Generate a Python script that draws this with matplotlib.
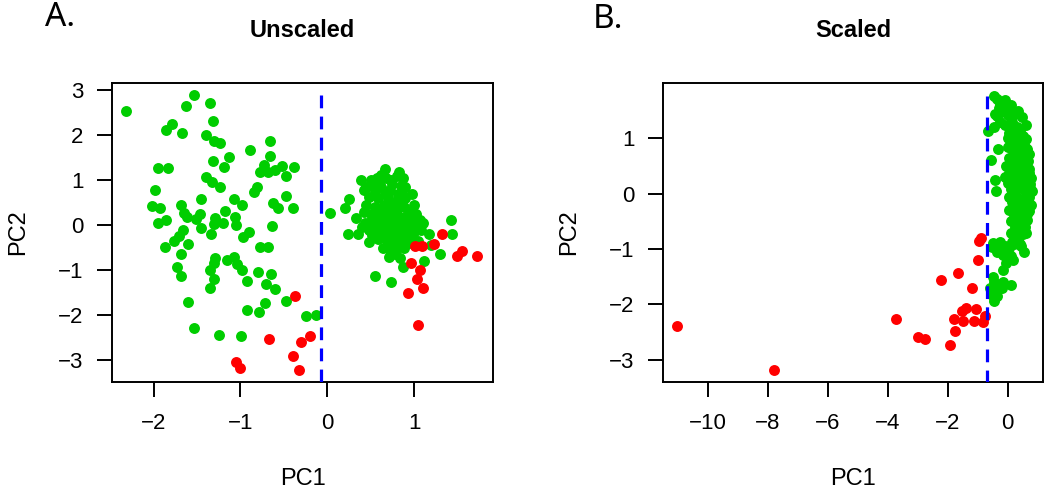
import matplotlib
matplotlib.use("Agg")
import matplotlib.pyplot as plt

plt.rcParams['font.family'] = ['Liberation Sans', 'DejaVu Sans']

GREEN = '#00CD00'
RED = '#FF0000'

# ---- Unscaled PCA: left (spread) group, green
unsc_left_x = [-2.32, -1.53, -1.63, -1.35, -1.32, -1.86, -1.79, -1.67, -1.40, -1.30,
               -1.23, -0.66, -0.89, -1.13, -1.32, -1.19, -0.66, -1.95, -1.83, -0.73,
               -0.77, -0.68, -0.60, -0.52, -0.38, -0.48, -1.40, -1.33, -1.24, -1.98,
               -0.81, -0.84, -0.47, -1.45, -1.07, -0.98, -0.63, -0.57, -0.40, -2.02,
               -1.93, -1.68, -1.65, -1.62, -1.51, -1.47, -1.95, -1.86, -1.18, -1.29,
               -1.31, -1.20, -1.06, -1.05, -1.45, -1.34, -0.64, -1.66, -1.71, -1.76,
               -1.87, -1.60, -1.68, -0.97, -0.90, -0.77, -0.68, -1.29, -1.31, -1.35,
               -1.16, -1.07, -1.04, -1.73, -1.68, -1.31, -1.35, -0.98, -0.93, -0.80,
               -0.65, -0.71, -0.60, -0.47, -1.61, -0.72, -0.92, -0.79, -0.25, -0.13,
               -1.54, -1.25, -0.99]
unsc_left_y = [2.53, 2.90, 2.65, 2.72, 2.31, 2.11, 2.25, 2.04, 2.00, 1.87,
               1.83, 1.87, 1.66, 1.52, 1.42, 1.29, 1.53, 1.28, 1.26, 1.33,
               1.17, 1.19, 1.22, 1.31, 1.29, 1.09, 1.06, 0.96, 0.84, 0.79,
               0.84, 0.73, 0.65, 0.59, 0.59, 0.44, 0.50, 0.39, 0.37, 0.42,
               0.37, 0.44, 0.27, 0.17, 0.13, 0.24, 0.05, 0.11, 0.32, 0.15,
               0.02, 0.05, 0.19, 0.00, -0.06, -0.19, -0.02, -0.10, -0.24, -0.36,
               -0.48, -0.42, -0.64, -0.26, -0.15, -0.48, -0.48, -0.73, -0.84, -0.99,
               -0.78, -0.70, -0.87, -0.94, -1.13, -1.19, -1.41, -1.01, -1.24, -1.05,
               -1.09, -1.30, -1.42, -1.68, -1.70, -1.73, -1.89, -1.94, -2.02, -2.01,
               -2.30, -2.44, -2.47]

# ---- Unscaled PCA: right (compact) group, green
unsc_right_x = [0.03, 0.20, 0.25, 0.39, 0.66, 0.83, 0.87, 0.90, 0.98, 1.00,
                1.07, 1.17, 1.43, 1.44, 1.30, 1.12, 0.87, 0.74, 0.55, 0.24,
                0.35, 0.48, 0.33, 0.42, 0.50, 0.57, 0.74, 0.82, 1.20, 0.84,
                0.71,
                0.45, 0.52, 0.60, 0.68, 0.75, 0.80, 0.62, 0.55, 0.48, 0.58,
                0.66, 0.72, 0.85, 0.90, 0.82, 0.75, 0.65, 0.55, 0.45, 0.42,
                0.50, 0.60, 0.70, 0.80, 0.88, 0.95, 1.02, 0.98, 0.90, 0.82,
                0.74, 0.66, 0.58, 0.50, 0.44, 0.40, 0.48, 0.56, 0.64, 0.72,
                0.80, 0.88, 0.96, 1.04, 1.10, 1.08, 1.00, 0.92, 0.84, 0.76,
                0.68, 0.60, 0.52, 0.58, 0.66, 0.74, 0.82, 0.90, 0.98, 1.05,
                0.94, 0.86, 0.78, 0.70, 0.64, 0.72, 0.80, 0.88, 0.78, 0.70,
                0.62, 0.86, 0.70, 0.76, 0.68, 0.78, 0.70, 0.86, 0.62, 0.84]
unsc_right_y = [0.26, 0.37, 0.59, 1.01, 1.24, 1.17, 1.04, 0.85, 0.70, 0.44,
                0.11, -0.19, 0.11, -0.19, -0.64, -0.80, -0.93, -1.27, -1.13, -0.19,
                -0.19, -0.37, 0.15, 0.78, 1.00, 1.04, 1.00, 0.70, -0.44, -0.74,
                -0.70,
                0.85, 0.90, 0.95, 1.05, 0.92, 1.10, 1.12, 0.75, 0.62, 0.60,
                0.70, 0.78, 0.88, 0.60, 0.55, 0.50, 0.45, 0.40, 0.45, 0.30,
                0.25, 0.30, 0.32, 0.35, 0.40, 0.30, 0.25, 0.15, 0.18, 0.20,
                0.18, 0.15, 0.12, 0.08, 0.05, -0.05, -0.10, -0.05, 0.02, 0.05,
                0.08, 0.02, 0.00, -0.02, 0.05, -0.12, -0.15, -0.10, -0.05, -0.08,
                -0.12, -0.18, -0.22, -0.32, -0.28, -0.22, -0.20, -0.25, -0.30, -0.35,
                -0.40, -0.35, -0.38, -0.42, -0.50, -0.55, -0.52, -0.50, -0.65, 0.62,
                0.85, 0.72, 0.25, 0.28, 0.40, -0.02, -0.02, 0.12, 0.22, -0.12]

# ---- Unscaled PCA: red points
unsc_red_x = [-0.37, -0.67, -0.30, -0.20, -0.40, -0.33, -1.05, -1.01,
              1.32, 1.23, 1.01, 1.09, 1.55, 1.50, 1.73, 0.97, 1.07, 1.03, 1.10, 0.93, 1.05]
unsc_red_y = [-1.58, -2.54, -2.61, -2.47, -2.91, -3.22, -3.05, -3.18,
              -0.20, -0.43, -0.46, -0.46, -0.58, -0.68, -0.68, -0.85, -1.00, -1.20, -1.39, -1.52, -2.22]

unsc_cut = -0.07

# ---- Scaled PCA: green points
sc_green_x = [-0.44, -0.09, -0.64, -0.56, -0.42, -0.40, -0.31, -0.42, -0.23, 0.24,
              0.41, 0.58, 0.69, 0.74, 0.69, 0.63, 0.58, 0.41, -0.48, -0.20,
              0.19, -0.14, -0.48, -0.17, 0.11, -0.44, -0.59, -0.03, -0.31, -0.53,
              -0.35, -0.20, -0.05, 0.05, -0.30, -0.15, 0.00, 0.10, -0.35, -0.25,
              0.15, 0.20, 0.05, -0.10, -0.45,
              0.05, 0.20, 0.35, 0.10, 0.30, 0.45, 0.00, 0.15, 0.40, 0.55,
              0.25, 0.05, 0.35, 0.60, 0.15, 0.45, -0.05, 0.25,
              0.55, 0.70, 0.05, 0.35, 0.15, 0.50, 0.65, 0.00, 0.30, 0.75,
              0.45, 0.10, 0.60, 0.25, 0.05, 0.70, 0.40, 0.15, 0.55, 0.30,
              0.65, 0.05, 0.45, 0.20, 0.60, 0.35, 0.10, 0.50, 0.25, 0.10,
              0.40, 0.20, 0.35, 0.15,
              -0.40, -0.25, -0.10, 0.05, -0.35, -0.15, 0.10, -0.05, -0.45, -0.30,
              -0.40, -0.20, -0.50, -0.35,
              0.55, 0.65, 0.70, 0.78, 0.80, 0.78, 0.72, 0.65, 0.50, 0.60,
              0.30, 0.40, 0.50, 0.62, 0.70, 0.00, -0.10, 0.20, 0.45, 0.55,
              0.10, -0.25, 0.35, 0.62, 0.48]
sc_green_y = [1.77, 1.70, 1.13, 0.61, 0.24, 0.05, 0.81, 1.44, 1.47, 1.44,
              1.08, 0.84, 0.60, 0.18, -0.12, -0.36, -0.60, -0.90, -0.89, -0.96,
              -1.20, -1.38, -1.50, -1.59, -1.64, -1.93, -1.71, -1.07, -1.02, -0.96,
              1.72, 1.65, 1.60, 1.55, 1.55, 1.50, 1.42, 1.38, 1.40, 1.30,
              1.30, 1.20, 1.22, 1.25, 1.20,
              1.10, 1.05, 1.00, 0.95, 0.90, 0.90, 0.85, 0.80, 0.75, 0.72,
              0.70, 0.65, 0.62, 0.55, 0.55, 0.50, 0.50, 0.45,
              0.40, 0.38, 0.38, 0.35, 0.28, 0.25, 0.22, 0.20, 0.18, 0.10,
              0.10, 0.08, 0.02, 0.00, -0.05, -0.05, -0.10, -0.15, -0.18, -0.22,
              -0.25, -0.30, -0.30, -0.38, -0.42, -0.45, -0.50, -0.55, -0.60, -0.70,
              -0.68, -0.80, -0.82, -0.88,
              -0.90, -0.88, -0.95, -0.98, -1.05, -1.10, -1.12, -1.25, -1.60, -1.65,
              -1.75, -1.70, -1.85, -1.85,
              0.95, 0.80, 0.45, 0.28, 0.05, -0.20, -0.32, -0.48, -0.72, -0.70,
              1.20, 1.15, 1.05, 0.98, 0.72, 1.00, 0.30, -0.90, -0.95, -1.05,
              1.60, 1.62, 1.50, 1.25, 1.38]

# ---- Scaled PCA: red points
sc_red_x = [-11.01, -7.79, -3.72, -2.98, -2.76, -2.23, -1.67, -1.92, -1.76, -1.79,
            -1.50, -1.53, -1.39, -1.20, -1.07, -1.11, -0.83, -0.76, -0.98, -0.96, -0.89]
sc_red_y = [-2.38, -3.19, -2.26, -2.58, -2.62, -1.55, -1.43, -2.74, -2.47, -2.26,
            -2.30, -2.12, -2.06, -1.70, -2.08, -2.29, -2.32, -2.20, -1.20, -0.86, -0.80]

sc_cut = -0.70

fig = plt.figure(figsize=(10.5, 4.95), dpi=100)
ax1 = fig.add_axes([112 / 1050, 1 - 382 / 495, 381 / 1050, 299 / 495])
ax2 = fig.add_axes([663 / 1050, 1 - 382 / 495, 380 / 1050, 299 / 495])

ms = 62
ax1.scatter(unsc_left_x, unsc_left_y, s=ms, c=GREEN, linewidths=0, zorder=2)
ax1.scatter(unsc_right_x, unsc_right_y, s=ms, c=GREEN, linewidths=0, zorder=2)
ax1.scatter(unsc_red_x, unsc_red_y, s=ms, c=RED, linewidths=0, zorder=3)
ax1.plot([unsc_cut, unsc_cut], [2.89, -3.6], color='#0000FF', lw=2.3,
         dashes=(4, 2.6), zorder=4)
ax1.set_xlim(-2.48, 1.91)
ax1.set_ylim(-3.49, 3.16)
ax1.set_xticks([-2, -1, 0, 1])
ax1.set_yticks([-3, -2, -1, 0, 1, 2, 3])
ax1.set_title('Unscaled', fontsize=17, fontweight='bold', pad=33)

ax2.scatter(sc_green_x, sc_green_y, s=ms, c=GREEN, linewidths=0, zorder=2)
ax2.scatter(sc_red_x, sc_red_y, s=ms, c=RED, linewidths=0, zorder=3)
ax2.plot([sc_cut, sc_cut], [1.77, -3.6], color='#0000FF', lw=2.3,
         dashes=(4, 2.6), zorder=4)
ax2.set_xlim(-11.49, 1.18)
ax2.set_ylim(-3.4, 2.0)
ax2.set_xticks([-10, -8, -6, -4, -2, 0])
ax2.set_yticks([-3, -2, -1, 0, 1])
ax2.set_title('Scaled', fontsize=17, fontweight='bold', pad=33)

for ax in (ax1, ax2):
    for sp in ax.spines.values():
        sp.set_linewidth(1.4)
    ax.tick_params(length=10.5, width=1.4, labelsize=16)
    ax.tick_params(axis='x', pad=12)
    ax.tick_params(axis='y', pad=10)
    ax.set_xlabel('PC1', fontsize=17, labelpad=24)
    ax.set_ylabel('PC2', fontsize=17, labelpad=21)
    ax.set_xticklabels([str(t).replace('-', '\u2212') for t in ax.get_xticks().astype(int)])
    ax.set_yticklabels([str(t).replace('-', '\u2212') for t in ax.get_yticks().astype(int)])

fig.text(45 / 1050, 1 - 18 / 495, 'A.', fontsize=24, family='Noto Sans', va='center', ha='left')
fig.text(593 / 1050, 1 - 20 / 495, 'B.', fontsize=24, family='Noto Sans', va='center', ha='left')

fig.savefig('out.png', dpi=100)
